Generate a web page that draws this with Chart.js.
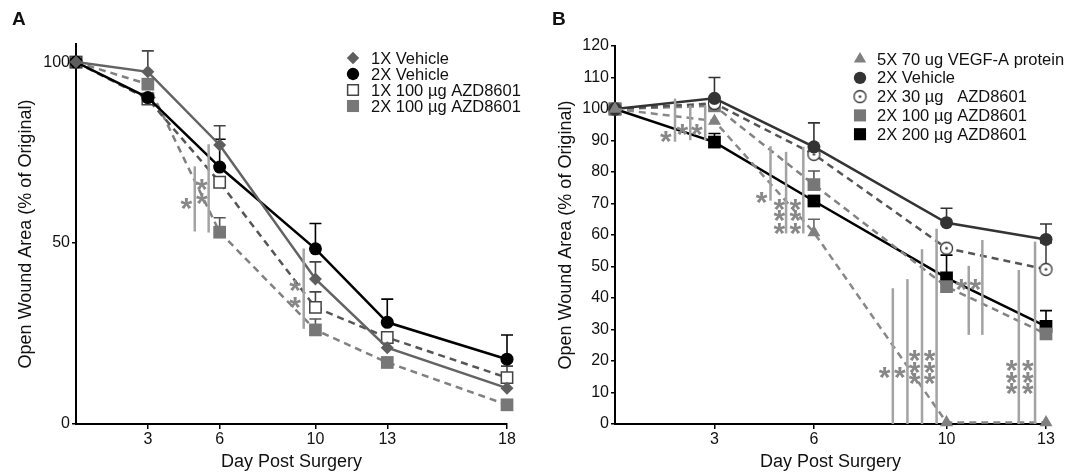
<!DOCTYPE html>
<html>
<head>
<meta charset="utf-8">
<script src="https://cdn.jsdelivr.net/npm/chart.js@4.4.0/dist/chart.umd.min.js"></script>
<style>
  body { margin: 0; background: #fff; width: 1081px; height: 475px; overflow: hidden; position: relative; font-family: 'Liberation Sans', Arial, sans-serif; }
  .wrap { position: absolute; top: 0; height: 475px; }
  .tag { position: absolute; top: 8px; font-weight: bold; font-size: 19px; color: #111; }
</style>
</head>
<body>
<div class="wrap" style="left:0;width:540px"><canvas id="chartA" width="540" height="475"></canvas></div>
<div class="wrap" style="left:540px;width:541px"><canvas id="chartB" width="541" height="475"></canvas></div>
<div class="tag" style="left:12px">A</div>
<div class="tag" style="left:552px">B</div>
<script>
// ---- panel A data ----
const daysA = [0, 3, 6, 10, 13, 18];
const xTicksA = [3, 6, 10, 13, 18];
const yTicksA = [0, 50, 100];
const veh1xA = [100, 97.3, 77.1, 40.1, 21.1, 9.9];
const veh2xA = [100, 90.2, 71, 48.4, 28.1, 17.9];
const azd1x100A = [100, 89.8, 66.8, 32.2, 23.9, 12.8];
const azd2x100A = [100, 93.9, 53, 26, 17, 5.3];
// top of error bar (null = not visible)
const veh1xErrA = [null, 103.1, 82.4, 44.8, null, null];
const veh2xErrA = [null, null, 78.7, 55.4, 34.5, 24.6];
const azd1x100ErrA = [null, null, null, 36.5, null, 16];
const azd2x100ErrA = [null, null, 57, 29, null, null];
// significance bars [day, from, to] and asterisks [day, value]
const sigLinesA = [[4.96, 53.2, 71.2], [5.54, 52.9, 77.3], [9.51, 26.3, 48.5]];
const sigStarsA = [[4.61, 61.5], [5.26, 67], [5.26, 62.9], [9.15, 39], [9.15, 34.3]];

// ---- panel B data ----
const daysB = [0, 3, 6, 10, 13];
const xTicksB = [3, 6, 10, 13];
const yTicksB = [0, 10, 20, 30, 40, 50, 60, 70, 80, 90, 100, 110, 120];
const vegfB = [100, 96.2, 60.8, 0.5, 0.5];
const veh2xB = [100, 103.4, 88, 63.9, 58.6];
const azd30B = [100, 101.8, 85.6, 55.8, 49.1];
const azd100B = [100, 101, 76, 43.6, 28.6];
const azd200B = [100, 89.5, 70.8, 46.4, 31];
const vegfErrB = [null, null, 65, null, null];
const veh2xErrB = [null, 110, 95.6, 68.5, 63.5];
const azd30ErrB = [null, null, null, null, 57.5];
const azd100ErrB = [null, null, 80.3, null, null];
const azd200ErrB = [null, 92.2, null, 53.6, 36];
const sigLinesB = [
  [1.81, 89.6, 103.3], [2.27, 90.1, 101.2], [2.72, 90.1, 101.2],
  [4.69, 70.9, 88.2], [5.16, 60.5, 86.4], [5.68, 60.5, 88],
  [8.38, 0, 43.1], [8.82, 0, 46], [9.26, 0, 55.5], [9.70, 0, 62],
  [10.67, 28.3, 50.2], [11.08, 28.3, 58.4],
  [12.18, 0, 48.9], [12.67, 0, 57.9]
];
const sigStarsB = [
  [1.53, 92.2], [2.03, 94.3], [2.47, 94.3],
  [4.42, 72.7], [4.96, 70.6], [4.96, 66.9], [4.96, 62.9], [5.44, 70.6], [5.44, 66.9], [5.44, 62.9],
  [8.13, 17.2], [8.59, 17.2], [9.04, 22.4], [9.04, 18.6], [9.04, 15.1], [9.49, 22.4], [9.49, 18.6], [9.49, 15.1],
  [10.45, 45.2], [10.87, 45.2],
  [11.96, 19.3], [11.96, 15.6], [11.96, 12.2], [12.45, 19.3], [12.45, 15.6], [12.45, 12.2]
];

const FONT = "'Liberation Sans', Arial, sans-serif";

// open circle with a dot in the middle
function dotCircle() {
  const c = document.createElement('canvas');
  c.width = 15; c.height = 15;
  const g = c.getContext('2d');
  g.beginPath(); g.arc(7.5, 7.5, 6, 0, Math.PI * 2);
  g.fillStyle = '#fff'; g.fill();
  g.lineWidth = 1.3; g.strokeStyle = '#333'; g.stroke();
  g.beginPath(); g.arc(7.5, 7.5, 1.3, 0, Math.PI * 2);
  g.fillStyle = '#333'; g.fill();
  return c;
}

function series(label, data, err, color, style, radius, fill, dash, extra) {
  return Object.assign({
    label: label,
    data: data,
    errTop: err,
    borderColor: color,
    borderWidth: 2.5,
    borderDash: dash || [],
    pointStyle: style,
    pointRadius: radius,
    pointHoverRadius: radius,
    pointBackgroundColor: fill,
    pointBorderColor: fill,
    pointBorderWidth: 0,
    tension: 0,
    clip: false
  }, extra || {});
}

const panelPlugin = {
  id: 'panelExtras',
  beforeDatasetsDraw(chart) {
    const ctx = chart.ctx, ys = chart.scales.y;
    chart.data.datasets.forEach((ds, i) => {
      const meta = chart.getDatasetMeta(i);
      ds.errTop.forEach((top, j) => {
        if (top == null) return;
        const p = meta.data[j];
        const yt = ys.getPixelForValue(top);
        ctx.save();
        ctx.strokeStyle = ds.errColor || ds.borderColor;
        ctx.lineWidth = 1.6;
        ctx.beginPath();
        ctx.moveTo(p.x, p.y); ctx.lineTo(p.x, yt);
        ctx.moveTo(p.x - 6, yt); ctx.lineTo(p.x + 6, yt);
        ctx.stroke();
        ctx.restore();
      });
    });
  },
  afterDatasetsDraw(chart, args, opts) {
    const ctx = chart.ctx, xs = chart.scales.x, ys = chart.scales.y;
    ctx.save();
    ctx.strokeStyle = '#a3a3a3';
    ctx.lineWidth = 2.5;
    opts.lines.forEach(l => {
      const x = xs.getPixelForValue(l[0]);
      ctx.beginPath();
      ctx.moveTo(x, ys.getPixelForValue(l[1]));
      ctx.lineTo(x, ys.getPixelForValue(l[2]));
      ctx.stroke();
    });
    ctx.fillStyle = '#888';
    ctx.font = 'bold 30px ' + FONT;
    ctx.textAlign = 'center';
    ctx.textBaseline = 'alphabetic';
    opts.stars.forEach(s => {
      ctx.fillText('*', xs.getPixelForValue(s[0]), ys.getPixelForValue(s[1]) + 17);
    });
    ctx.restore();
  },
  afterDraw(chart, args, opts) {
    const ctx = chart.ctx, lg = opts.legend;
    ctx.save();
    chart.data.datasets.forEach((ds, i) => {
      const y = lg.y + i * lg.step;
      ctx.fillStyle = ds.pointBackgroundColor;
      ctx.strokeStyle = ds.pointBorderColor;
      ctx.lineWidth = ds.pointBorderWidth;
      Chart.helpers.drawPoint(ctx, {
        pointStyle: ds.pointStyle, radius: ds.pointRadius * 0.95,
        borderWidth: ds.pointBorderWidth, rotation: 0
      }, lg.x, y);
      ctx.fillStyle = '#111';
      ctx.font = '16.5px ' + FONT;
      ctx.textAlign = 'left';
      ctx.textBaseline = 'middle';
      ctx.fillText(ds.label, lg.tx, y + 1);
    });
    ctx.restore();
  }
};

function axes(xMax, xTicks, yMax, yTicks, yWidth) {
  const tickFont = { family: FONT, size: 16 };
  const titleFont = { family: FONT, size: 18 };
  return {
    x: {
      type: 'linear', min: 0, max: xMax,
      afterBuildTicks: s => { s.ticks = xTicks.map(v => ({ value: v })); },
      afterFit: s => { s.height = 51; },
      ticks: { font: tickFont, color: '#111', padding: 1, maxRotation: 0 },
      grid: { drawOnChartArea: false, drawTicks: true, tickLength: 5, color: '#000', lineWidth: 1.5 },
      border: { display: true, color: '#000', width: 2 },
      title: { display: true, text: 'Day Post Surgery', font: titleFont, color: '#111', padding: { top: 0, bottom: 2 } }
    },
    y: {
      type: 'linear', min: 0, max: yMax,
      afterBuildTicks: s => { s.ticks = yTicks.map(v => ({ value: v })); },
      afterFit: s => { s.width = yWidth; },
      ticks: { font: tickFont, color: '#111', padding: 2 },
      grid: { drawOnChartArea: false, drawTicks: true, tickLength: 4, color: '#000', lineWidth: 1.5 },
      border: { display: true, color: '#000', width: 2 },
      title: { display: true, text: 'Open Wound Area (% of Original)', font: titleFont, color: '#111', padding: { top: 15, bottom: 0 } }
    }
  };
}

const common = {
  responsive: false,
  animation: false,
  events: []
};

new Chart(document.getElementById('chartA'), {
  type: 'line',
  data: {
    labels: daysA,
    datasets: [
      series('1X Vehicle', veh1xA.map((v, i) => ({ x: daysA[i], y: v })), veh1xErrA, '#636363', 'rectRot', 6.5, '#5e5e5e', null, { errColor: '#444' }),
      series('2X Vehicle', veh2xA.map((v, i) => ({ x: daysA[i], y: v })), veh2xErrA, '#000', 'circle', 6.5, '#000'),
      series('1X 100 µg AZD8601', azd1x100A.map((v, i) => ({ x: daysA[i], y: v })), azd1x100ErrA, '#555', 'rect', 8, '#fff', [7, 5],
        { pointBorderColor: '#444', pointBorderWidth: 1.5, errColor: '#444' }),
      series('2X 100 µg AZD8601', azd2x100A.map((v, i) => ({ x: daysA[i], y: v })), azd2x100ErrA, '#808080', 'rect', 9, '#777', [7, 5],
        { errColor: '#555' })
    ]
  },
  options: Object.assign({}, common, {
    layout: { padding: { left: 0, top: 44, right: 33, bottom: 0 } },
    scales: axes(18, xTicksA, 105, yTicksA, 76),
    plugins: {
      legend: { display: false },
      tooltip: { enabled: false },
      panelExtras: { lines: sigLinesA, stars: sigStarsA, legend: { x: 353, tx: 371, y: 58, step: 16 } }
    }
  }),
  plugins: [panelPlugin]
});

new Chart(document.getElementById('chartB'), {
  type: 'line',
  data: {
    labels: daysB,
    datasets: [
      series('5X 70 ug VEGF-A protein', vegfB.map((v, i) => ({ x: daysB[i], y: v })), vegfErrB, '#888', 'triangle', 7.5, '#808080', [7, 5],
        { errColor: '#666' }),
      series('2X Vehicle', veh2xB.map((v, i) => ({ x: daysB[i], y: v })), veh2xErrB, '#333', 'circle', 6.5, '#333'),
      series('2X 30 µg   AZD8601', azd30B.map((v, i) => ({ x: daysB[i], y: v })), azd30ErrB, '#555', dotCircle(), 7, '#fff', [7, 5],
        { pointBorderColor: '#333', errColor: '#444' }),
      series('2X 100 µg AZD8601', azd100B.map((v, i) => ({ x: daysB[i], y: v })), azd100ErrB, '#828282', 'rect', 9, '#777', [7, 5],
        { errColor: '#555' }),
      series('2X 200 µg AZD8601', azd200B.map((v, i) => ({ x: daysB[i], y: v })), azd200ErrB, '#000', 'rect', 9, '#000')
    ]
  },
  options: Object.assign({}, common, {
    layout: { padding: { left: 0, top: 46, right: 35, bottom: 0 } },
    scales: axes(13, xTicksB, 120, yTicksB, 75),
    plugins: {
      legend: { display: false },
      tooltip: { enabled: false },
      panelExtras: { lines: sigLinesB, stars: sigStarsB, legend: { x: 320, tx: 337, y: 59, step: 18.8 } }
    }
  }),
  plugins: [panelPlugin]
});
</script>
</body>
</html>
